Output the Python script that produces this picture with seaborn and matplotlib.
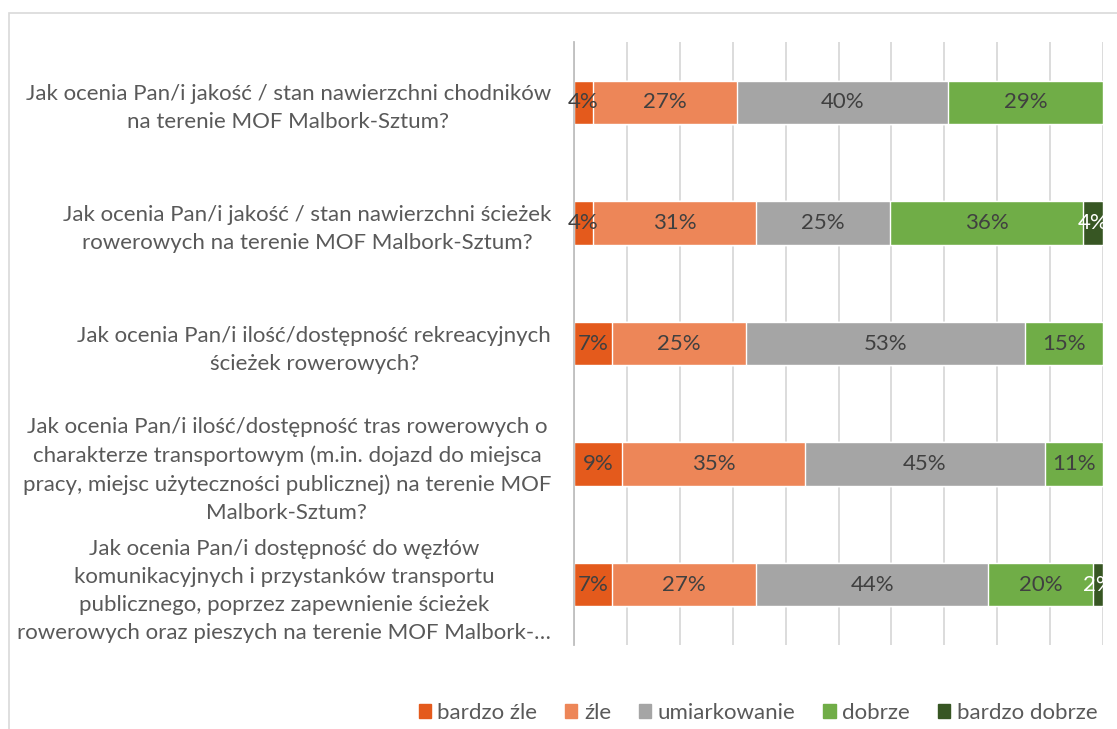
import matplotlib.pyplot as plt
import matplotlib.patches as mpatches
import numpy as np
import pandas as pd
import seaborn as sns

# Questions (top to bottom)
questions = [
    "Jak ocenia Pan/i jakość / stan nawierzchni chodników\nna terenie MOF Malbork-Sztum?",
    "Jak ocenia Pan/i jakość / stan nawierzchni ścieżek\nrowerowych na terenie MOF Malbork-Sztum?",
    "Jak ocenia Pan/i ilość/dostępność rekreacyjnych\nścieżek rowerowych?",
    "Jak ocenia Pan/i ilość/dostępność tras rowerowych o\ncharakterze transportowym (m.in. dojazd do miejsca\n"
    "pracy, miejsc użyteczności publicznej) na terenie MOF\nMalbork-Sztum?",
    "Jak ocenia Pan/i dostępność do węzłów\nkomunikacyjnych i przystanków transportu\n"
    "publicznego, poprzez zapewnienie ścieżek\nrowerowych oraz pieszych na terenie MOF Malbork-…",
]
answers = ["bardzo źle", "źle", "umiarkowanie", "dobrze", "bardzo dobrze"]

# Shares in percent, one list per answer (same order as questions)
bardzo_zle = [3.6, 3.6, 7.2, 9.1, 7.2]
zle = [27.2, 30.8, 25.4, 34.6, 27.2]
umiarkowanie = [39.9, 25.4, 52.7, 45.3, 43.9]
dobrze = [29.3, 36.4, 14.7, 11.0, 19.8]
bardzo_dobrze = [0.0, 3.8, 0.0, 0.0, 1.9]

colors = ["#E45A1C", "#ED8658", "#A5A5A5", "#70AD47", "#375623"]
label_colors = ["#404040", "#404040", "#404040", "#404040", "#FFFFFF"]

df = pd.DataFrame(
    {
        "question": questions,
        "bardzo źle": bardzo_zle,
        "źle": zle,
        "umiarkowanie": umiarkowanie,
        "dobrze": dobrze,
        "bardzo dobrze": bardzo_dobrze,
    }
)
cum = df[answers].cumsum(axis=1)

sns.set_theme(style="white")
plt.rcParams["font.family"] = ["Lato", "DejaVu Sans"]
text_gray = "#595959"
FS = 16

fig = plt.figure(figsize=(11.17, 7.29), dpi=100)
ax = fig.add_axes([574 / 1117, 1 - 645 / 729, 529 / 1117, 603 / 729])

# chart frame
fig.patches.append(
    mpatches.Rectangle(
        (9 / 1117, -0.05), 1.2, 1 - 13 / 729 + 0.05,
        transform=fig.transFigure, fill=False, edgecolor="#D9D9D9", lw=1.2,
    )
)

# stacked bars: draw cumulative totals from the right-most series back
for i in range(len(answers) - 1, -1, -1):
    sns.barplot(
        x=cum[answers[i]], y=df["question"], color=colors[i],
        orient="h", width=0.36, saturation=1, ax=ax, zorder=2,
    )

# value labels
for i, ans in enumerate(answers):
    left = cum[ans] - df[ans]
    for j, v in enumerate(df[ans]):
        if v <= 0:
            continue
        ax.text(
            left[j] + v / 2, j, f"{v:.0f}%", ha="center", va="center",
            fontsize=FS, color=label_colors[i], zorder=3,
        )

ax.set_xlim(0, 100)
ax.set_ylim(len(questions) - 0.5, -0.5)
ax.set_xticks(np.arange(0, 101, 10))
ax.set_xticklabels([])
ax.grid(axis="x", color="#D9D9D9", lw=1.3, zorder=0)
ax.set_axisbelow(True)
ax.set_xlabel("")
ax.set_ylabel("")
for s in ["top", "right", "bottom"]:
    ax.spines[s].set_visible(False)
ax.spines["left"].set_color("#BFBFBF")
ax.spines["left"].set_linewidth(1.3)
ax.tick_params(axis="y", length=0, pad=16.5)
ax.tick_params(axis="x", length=0)
ax.set_yticks(range(len(questions)))
ax.set_yticklabels(questions, fontsize=FS, color=text_gray,
                   multialignment="center", linespacing=1.5)

handles = [mpatches.Patch(color=c, label=a) for a, c in zip(answers, colors)]
fig.legend(
    handles=handles, loc="center", bbox_to_anchor=(758 / 1117, 1 - 713 / 729),
    ncol=5, frameon=False, fontsize=FS, labelcolor=text_gray,
    handlelength=0.55, handleheight=0.55, handletextpad=0.3, columnspacing=1.25,
)

fig.savefig("out.png", dpi=100)
